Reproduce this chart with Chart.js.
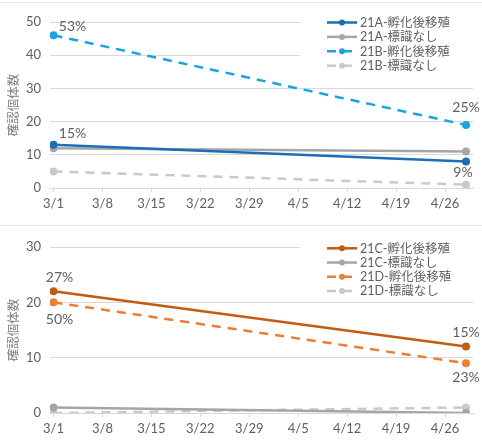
<!DOCTYPE html>
<html>
<head>
<meta charset="utf-8">
<script src="https://cdn.jsdelivr.net/npm/chart.js@4/dist/chart.umd.min.js"></script>
<style>
  body { margin: 0; background: #fff; width: 482px; height: 443px; position: relative; overflow: hidden; }
  .panel { position: absolute; left: 0; width: 482px; border-top: 1px solid #e3e3e3; }
  #p1 { top: 2px; }
  #p2 { top: 225px; }
  canvas { display: block; }
</style>
</head>
<body>
<div class="panel" id="p1"><canvas id="chartAB" width="482" height="219"></canvas></div>
<div class="panel" id="p2"><canvas id="chartCD" width="482" height="217"></canvas></div>
<script>
// survey dates and weekly ticks (2021)
const sampleDates = ['3/1', '4/29'];
const tickDates = ['3/1', '3/8', '3/15', '3/22', '3/29', '4/5', '4/12', '4/19', '4/26'];

// 確認個体数
const a21Hatch = [13, 8];
const a21None = [12, 11];
const b21Hatch = [46, 19];
const b21None = [5, 1];
const c21Hatch = [22, 12];
const c21None = [1, 0];
const d21Hatch = [20, 9];
const d21None = [0, 1];

// percentage labels on the 孵化後移殖 lines
const a21HatchPct = ['15%', '9%'];
const b21HatchPct = ['53%', '25%'];
const c21HatchPct = ['27%', '15%'];
const d21HatchPct = ['50%', '23%'];

const BASE = Date.UTC(2021, 2, 1);
function toDay(s) {
    let [m, d] = s.split('/').map(Number);
    return (Date.UTC(2021, m - 1, d) - BASE) / 86400000;
}
function fromDay(v) {
    let dt = new Date(BASE + Math.round(v) * 86400000);
    return (dt.getUTCMonth() + 1) + '/' + dt.getUTCDate();
}
function pts(vals) {
    return vals.map((v, i) => ({x: toDay(sampleDates[i]), y: v}));
}

const FONT = 'Lato, "Noto Sans CJK JP", sans-serif';
const TXT = '#606060';
const GRID = '#d9d9d9';

// legend drawn inside the plot, top right, on a white box
const boxLegend = {
    id: 'boxLegend',
    beforeDatasetsDraw(chart, args, opts) {
        let ctx = chart.ctx;
        ctx.save();
        ctx.fillStyle = '#fff';
        ctx.fillRect(opts.boxX, opts.boxY, opts.boxW, opts.boxH);
        ctx.restore();
    },
    afterDraw(chart, args, opts) {
        let ctx = chart.ctx;
        ctx.save();
        ctx.font = '12.5px ' + FONT;
        ctx.textBaseline = 'middle';
        chart.data.datasets.forEach((ds, i) => {
            let y = opts.top + i * opts.step;
            ctx.strokeStyle = ds.borderColor;
            ctx.lineWidth = 2.5;
            ctx.setLineDash(ds.borderDash || []);
            ctx.beginPath();
            ctx.moveTo(opts.x, y);
            ctx.lineTo(opts.x + 30, y);
            ctx.stroke();
            ctx.setLineDash([]);
            ctx.fillStyle = ds.borderColor;
            ctx.beginPath();
            ctx.arc(opts.x + 15, y, 3, 0, Math.PI * 2);
            ctx.fill();
            ctx.fillStyle = TXT;
            ctx.fillText(ds.label, opts.x + 33, y + 0.5);
        });
        ctx.restore();
    }
};

// percentage text next to points
const pctLabels = {
    id: 'pctLabels',
    afterDatasetsDraw(chart) {
        let ctx = chart.ctx;
        ctx.save();
        ctx.font = '14px ' + FONT;
        ctx.fillStyle = TXT;
        ctx.textAlign = 'center';
        ctx.textBaseline = 'middle';
        chart.data.datasets.forEach((ds, i) => {
            if (!ds.pct) return;
            let meta = chart.getDatasetMeta(i);
            ds.pct.forEach((t, j) => {
                let p = meta.data[j];
                let off = ds.pctOffset[j];
                ctx.fillText(t, p.x + off[0], p.y + off[1]);
            });
        });
        ctx.restore();
    }
};

function lineSet(label, vals, color, dashed, pct, pctOffset) {
    return {
        label: label,
        data: pts(vals),
        borderColor: color,
        backgroundColor: color,
        borderWidth: 2.5,
        borderDash: dashed ? [9, 7] : [],
        pointRadius: 4,
        pointBorderWidth: 0,
        pointBackgroundColor: color,
        tension: 0,
        pct: pct,
        pctOffset: pctOffset
    };
}

function makeChart(id, datasets, yMax, padTop, padBottom, legendOpts) {
    return new Chart(document.getElementById(id), {
        type: 'line',
        data: {datasets: datasets},
        options: {
            responsive: false,
            animation: false,
            events: [],
            layout: {padding: {left: 0, top: padTop, right: 9, bottom: padBottom}},
            plugins: {
                legend: {display: false},
                tooltip: {enabled: false},
                boxLegend: legendOpts
            },
            scales: {
                x: {
                    type: 'linear',
                    min: -0.5,
                    max: 60,
                    afterBuildTicks: s => { s.ticks = tickDates.map(t => ({value: toDay(t)})); },
                    afterFit: s => { s.height = 30; },
                    ticks: {
                        callback: v => fromDay(v),
                        color: TXT,
                        font: {family: FONT, size: 13},
                        padding: 4,
                        maxRotation: 0,
                        autoSkip: false
                    },
                    grid: {drawOnChartArea: false, color: GRID, tickLength: 4},
                    border: {color: GRID}
                },
                y: {
                    min: 0,
                    max: yMax,
                    afterFit: s => { s.width = 50; },
                    ticks: {
                        stepSize: 10,
                        color: TXT,
                        font: {family: FONT, size: 13},
                        padding: 9
                    },
                    grid: {color: GRID, drawTicks: false},
                    border: {display: false},
                    title: {
                        display: true,
                        text: '確認個体数',
                        color: '#808080',
                        font: {family: FONT, size: 12.5},
                        padding: {top: 6, bottom: 0}
                    }
                }
            }
        },
        plugins: [boxLegend, pctLabels]
    });
}

makeChart('chartAB', [
    lineSet('21A-孵化後移殖', a21Hatch, '#1a6fb8', false, a21HatchPct, [[19, -11], [-3, 11]]),
    lineSet('21A-標識なし', a21None, '#a5a5a5', false),
    lineSet('21B-孵化後移殖', b21Hatch, '#17a5e3', true, b21HatchPct, [[19, -9], [0, -17]]),
    lineSet('21B-標識なし', b21None, '#c9c9c9', true)
], 50, 19, 4, {boxX: 300, boxY: 6, boxW: 182, boxH: 70, x: 327, top: 19.5, step: 14.4});

makeChart('chartCD', [
    lineSet('21C-孵化後移殖', c21Hatch, '#c55a11', false, c21HatchPct, [[6, -14], [0, -14]]),
    lineSet('21C-標識なし', c21None, '#a5a5a5', false),
    lineSet('21D-孵化後移殖', d21Hatch, '#ed7d31', true, d21HatchPct, [[6, 17], [0, 14]]),
    lineSet('21D-標識なし', d21None, '#c9c9c9', true)
], 30, 21, 0, {boxX: 300, boxY: 8, boxW: 182, boxH: 62, x: 327, top: 22.3, step: 14.2});
</script>
</body>
</html>
